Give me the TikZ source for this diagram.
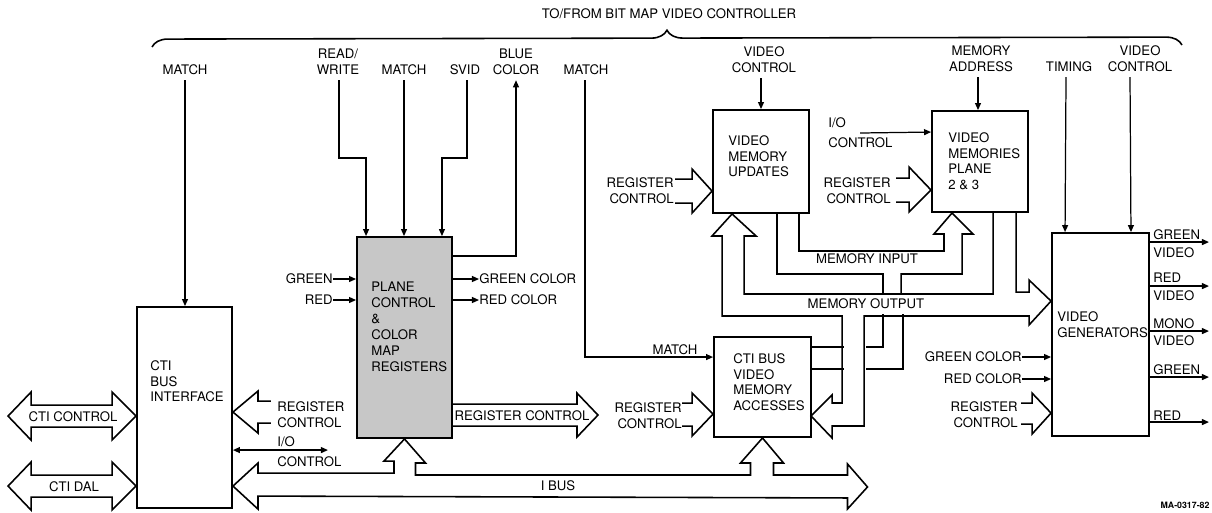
\documentclass[tikz,border=0pt]{standalone}
\usepackage{fontspec}
\setmainfont{TeX Gyre Heros}
\usetikzlibrary{arrows.meta,calc,decorations.pathreplacing}

\begin{document}
\begin{tikzpicture}[x=0.02cm, y=-0.02cm,
  box/.style={draw, line width=1.1pt, inner sep=0pt},
  lbl/.style={font=\fontsize{7.5}{9}\selectfont, inner sep=0pt, align=center},
  sig/.style={-{Triangle[length=4pt,width=3.4pt]}, line width=0.7pt},
  dsig/.style={{Triangle[length=4pt,width=3.4pt]}-{Triangle[length=4pt,width=3.4pt]}, line width=0.7pt},
  bus/.style={line width=0.9pt}]
  \useasboundingbox (0,0) rectangle (1212,512);

  % blocks
  \node[box, minimum width=1.9cm, minimum height=4.02cm] (cbi) at (184.5,407.5) {};
  \node[box, fill=black!22, minimum width=1.9cm, minimum height=4.02cm] (pcm) at (404.5,337.5) {};
  \node[box, minimum width=1.92cm, minimum height=2.06cm] (vmu) at (761,161.5) {};
  \node[box, minimum width=1.92cm, minimum height=2.02cm] (vmp) at (980,161.5) {};
  \node[box, minimum width=1.94cm, minimum height=2cm] (cva) at (762.5,387) {};
  \node[box, minimum width=1.94cm, minimum height=4.06cm] (vgen) at (1100.5,334.5) {};

  \node[lbl, align=left, anchor=north west] (cbit) at (150,360) {CTI\\BUS\\INTERFACE};
  \node[lbl, align=left, anchor=north west] (pcmt) at (371,282) {PLANE\\CONTROL\\\&\\COLOR\\MAP\\REGISTERS};
  \node[lbl, align=left, anchor=north west] (vmut) at (728,135) {VIDEO\\MEMORY\\UPDATES};
  \node[lbl, align=left, anchor=north west] (vmpt) at (948,132) {VIDEO\\MEMORIES\\PLANE\\2 \& 3};
  \node[lbl, align=left, anchor=north west] (cvat) at (733,353) {CTI BUS\\VIDEO\\MEMORY\\ACCESSES};
  \node[lbl, align=left, anchor=north west] (vgent) at (1057,311) {VIDEO\\GENERATORS};

  % bit map video controller side
  \draw[line width=0.9pt, decorate, decoration={brace, amplitude=9pt}] (152,47) -- (1182,45);
  \node[lbl] (ctrl) at (669,14) {TO/FROM BIT MAP VIDEO CONTROLLER};

  \node[lbl, anchor=south] (match1) at (185,75) {MATCH};
  \node[lbl, anchor=south] (rw) at (338,75) {READ/\\WRITE};
  \node[lbl, anchor=south] (match2) at (404,75) {MATCH};
  \node[lbl, anchor=south] (svid) at (465,75) {SVID};
  \node[lbl, anchor=south] (blue) at (516,75) {BLUE\\COLOR};
  \node[lbl, anchor=south] (match3) at (586,75) {MATCH};
  \node[lbl, anchor=south] (vctl1) at (764,73) {VIDEO\\CONTROL};
  \node[lbl, anchor=south] (maddr) at (981,72) {MEMORY\\ADDRESS};
  \node[lbl, anchor=south] (timing) at (1069,72) {TIMING};
  \node[lbl, anchor=south] (vctl2) at (1140,72) {VIDEO\\CONTROL};

  \draw[sig] (match1.south) ++(0,5) -- (match1.south |- cbi.north);
  \draw[sig] (rw.south) ++(1,5) -- ++(0,78) -| ($(pcm.north west)+(10,0)$);
  \draw[sig] (match2.south) ++(0,5) -- (match2.south |- pcm.north);
  \draw[sig] (svid.south) ++(2,5) -- ++(0,78) -| ($(pcm.north east)+(-11,0)$);
  \draw[sig] ($(pcm.north east)+(0,20)$) -| ([yshift=-3pt]blue.south);
  \node[lbl] (match4) at (675,350) {MATCH};
  \draw[sig] (match3.south) ++(-1,5) |- ($(cva.north west)+(0,21)$);
  \draw[sig] (vmu.north |- vctl1.south) ++(0,5) -- (vmu.north);
  \draw[sig] (vmp.north |- maddr.south) ++(-2,5) -- ($(vmp.north)+(-2,0)$);
  \draw[sig] (timing.south) ++(-3,5) -- ($(vgen.north west)+(14,0)$);
  \draw[sig] (vctl2.south) ++(-10,5) -- ($(vgen.north east)+(-19,0)$);

  \node[lbl, align=left, anchor=west] (ioc2) at (828,133) {I/O\\[2.3pt]CONTROL};
  \draw[sig] (ioc2.west) ++(32,0) -- ($(vmp.north west)+(0,22)$);

  % cti bus interface
  \draw[bus] ($(cbi.north west)+(0,110)$) -- ++(-24,-24) -- ++(0,13) -- ++(-81,0) -- ++(0,-13)
    -- ++(-23,24) -- ++(23,24) -- ++(0,-13) -- ++(81,0) -- ++(0,13) -- cycle;
  \node[lbl] (ctic) at (73,417) {CTI CONTROL};
  \draw[bus] ($(cbi.north west)+(0,180)$) -- ++(-24,-24) -- ++(0,13) -- ++(-81,0) -- ++(0,-13)
    -- ++(-23,24) -- ++(23,24) -- ++(0,-13) -- ++(81,0) -- ++(0,13) -- cycle;
  \node[lbl] (ctid) at (74,487) {CTI DAL};

  \draw[bus] ($(cbi.north east)+(38,95)$) -- ++(-13,0) -- ++(0,-10) -- ++(-25,21) -- ++(25,21) -- ++(0,-10) -- ++(13,0);
  \node[lbl, align=left, anchor=west] (rc1) at (277,415) {REGISTER\\CONTROL};
  \node[lbl, align=left, anchor=west] (ioc1) at (277,452) {I/O\\[2.3pt]CONTROL};
  \draw[dsig] ($(cbi.north east)+(0,144)$) -- ++(95,0);

  % i bus
  \draw[bus] ($(cbi.north east)+(0,180)$) -- ++(25,-23) -- ++(0,10) -- ++(136,0) -- ++(0,-12) -- ++(-10,0)
    -- (pcm.south) -- ++(21,24) -- ++(-10,0) -- ++(0,12) -- ++(335,0) -- ++(0,-12) -- ++(-10,0)
    -- (cva.south) -- ++(21,25) -- ++(-10,0) -- ++(0,12) -- ++(74,0) -- ++(0,-11) -- ++(20,23)
    -- ++(-20,22) -- ++(0,-11) -- ($(cbi.north east)+(25,190)$) -- ++(0,13) -- cycle;
  \node[lbl] (ibus) at (558,486) {I BUS};

  % plane control and color map registers
  \node[lbl, anchor=east] (green1) at (333,279) {GREEN};
  \node[lbl, anchor=east] (red1) at (333,300) {RED};
  \draw[sig] (green1.east) -- (green1.east -| pcm.west);
  \draw[sig] (red1.east) -- (red1.east -| pcm.west);
  \node[lbl, anchor=west] (gc1) at (479,279) {GREEN COLOR};
  \node[lbl, anchor=west] (rc1b) at (479,300) {RED COLOR};
  \draw[sig] (gc1.west -| pcm.east) -- (gc1.west);
  \draw[sig] (rc1b.west -| pcm.east) -- (rc1b.west);
  \draw[bus] ($(pcm.north east)+(0,168)$) -- ++(124,0) -- ++(0,-11) -- ++(21,22) -- ++(-21,22) -- ++(0,-11) -- ++(-124,0);
  \node[lbl] (rc3) at (522,416) {REGISTER CONTROL};

  % register control inputs
  \node[lbl, align=right, anchor=east] (rc2) at (674,191) {REGISTER\\CONTROL};
  \draw[bus] ($(vmu.north west)+(-37,70)$) -- ++(17,0) -- ++(0,-10) -- ++(20,22) -- ++(-20,22) -- ++(0,-10) -- ++(-17,0);
  \node[lbl, align=right, anchor=east] (rc4) at (891,191) {REGISTER\\CONTROL};
  \draw[bus] ($(vmp.north west)+(-35,68)$) -- ++(13,0) -- ++(0,-11) -- ++(22,23) -- ++(-22,22) -- ++(0,-10) -- ++(-13,0);
  \node[lbl, align=right, anchor=east] (rc5) at (682,416) {REGISTER\\CONTROL};
  \draw[bus] ($(cva.north west)+(-31,67)$) -- ++(10,0) -- ++(0,-10) -- ++(21,21) -- ++(-21,22) -- ++(0,-10) -- ++(-10,0);
  \node[lbl, align=right, anchor=east] (rc6) at (1018,415) {REGISTER\\CONTROL};
  \draw[bus] ($(vgen.north west)+(-30,171)$) -- ++(11,0) -- ++(0,-10) -- ++(19,20) -- ++(-19,21) -- ++(0,-10) -- ++(-11,0);

  % memory input
  \draw[bus] ($(vmu.south east)+(-11,0)$) -- ++(0,37) -- ++(145,0) -- ++(0,-17) -- ++(-10,0)
    -- ($(vmp.south west)+(21,0)$) -- ++(21,21) -- ++(-11,0) -- ++(0,40) -- ++(-61,0) -- ++(0,21);
  \draw[bus] ($(vmu.south east)+(-33,0)$) -- ++(0,60) -- ++(106,0) -- ++(0,21);
  \draw[bus] ($(cva.north east)+(71,-22)$) -- ++(0,33) -- ++(-17,0);
  \draw[bus] ($(cva.north east)+(91,-22)$) -- ++(0,55) -- ++(-37,0);
  \draw[bus] ($(cva.north east)+(0,11)$) -- ++(32,0);
  \draw[bus] ($(cva.north east)+(0,33)$) -- ++(32,0);
  \node[lbl] (minp) at (867,259) {MEMORY INPUT};

  % memory output
  \draw[bus] ($(vmp.south west)+(62,0)$) -- ++(0,81) -- ++(-249,0) -- ++(0,-58) -- ++(12,0)
    -- ($(vmu.south west)+(20,0)$) -- ++(-20,22) -- ++(10,0) -- ++(0,80) -- ++(120,0) -- ++(0,87)
    -- ++(-10,0) -- ++(0,-8) -- ++(-21,21) -- ++(21,22) -- ++(0,-12) -- ++(32,0) -- ++(0,-110)
    -- ++(165,0) -- ++(0,9) -- ($(vgen.north west)+(0,69)$) -- ++(-22,-21) -- ++(0,12) -- ++(-13,0) -- ++(0,-81);
  \node[lbl] (mout) at (866,304) {MEMORY OUTPUT};

  % video generators
  \node[lbl, anchor=east] (gc2) at (1022,357) {GREEN COLOR};
  \node[lbl, anchor=east] (rc7) at (1022,379) {RED COLOR};
  \draw[sig] (gc2.east) -- (gc2.east -| vgen.west);
  \draw[sig] (rc7.east) -- (rc7.east -| vgen.west);

  \node[lbl, align=left, anchor=west] (gvid) at (1153,243.5) {GREEN\\[1pt]VIDEO};
  \node[lbl, align=left, anchor=west] (rvid) at (1153,287) {RED\\[1pt]VIDEO};
  \node[lbl, align=left, anchor=west] (mvid) at (1153,332) {MONO\\[1pt]VIDEO};
  \node[lbl, anchor=west] (gout) at (1153,370) {GREEN};
  \node[lbl, anchor=west] (rout) at (1153,416) {RED};
  \draw[sig] ($(vgen.north east)+(0,10)$) -- ++(59,0);
  \draw[sig] ($(vgen.north east)+(0,54)$) -- ++(59,0);
  \draw[sig] ($(vgen.north east)+(0,99)$) -- ++(59,0);
  \draw[sig] ($(vgen.north east)+(0,145)$) -- ++(59,0);
  \draw[sig] ($(vgen.north east)+(0,190)$) -- ++(59,0);

  \node[font=\fontsize{5}{6}\selectfont\bfseries, inner sep=0pt] (fig) at (1185,505) {MA-0317-82};
\end{tikzpicture}
\end{document}
